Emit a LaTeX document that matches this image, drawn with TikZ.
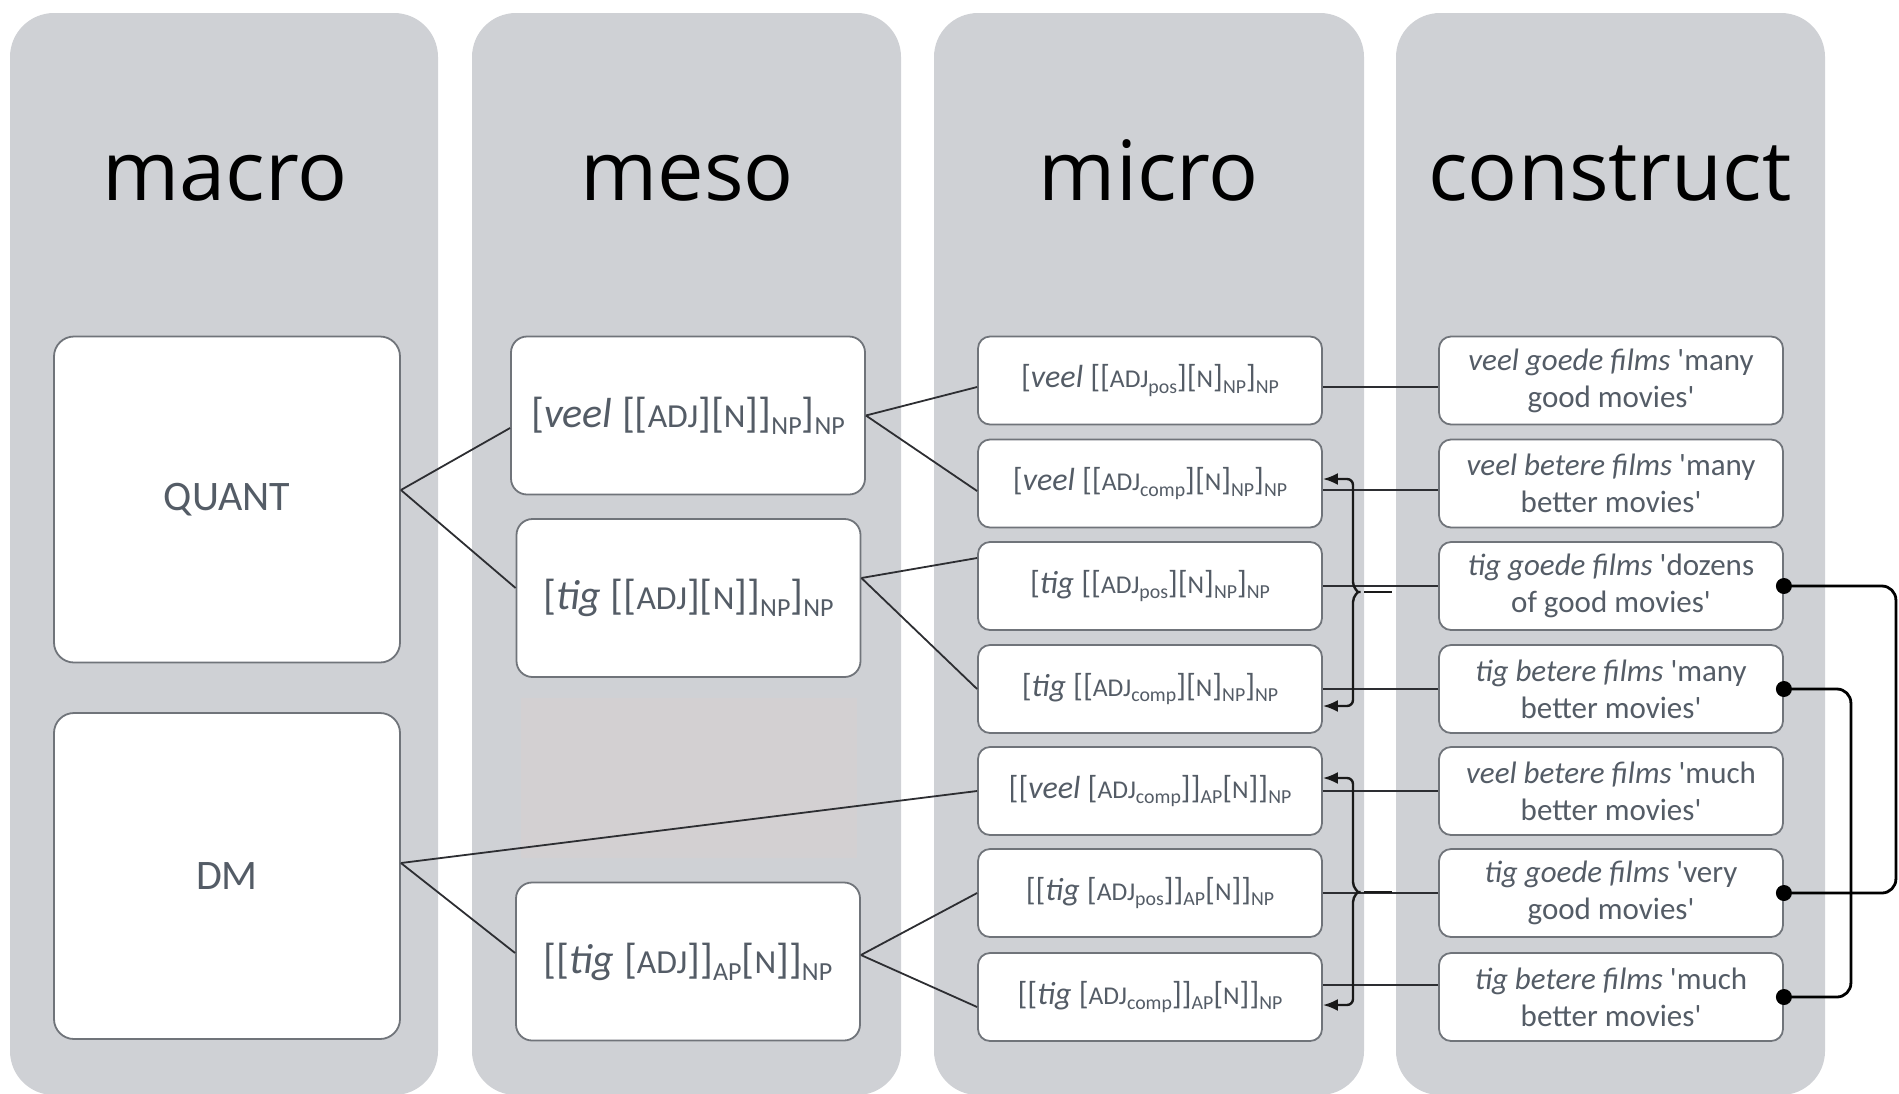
\documentclass[tikz,border=0pt]{standalone}
\usepackage{fontspec}
\usepackage{xcolor}
\usepackage{tikz}
\usetikzlibrary{positioning,calc,arrows.meta}

\newfontfamily\headfont{Open Sans}
\newfontfamily\boxfont{Carlito}
\definecolor{colgray}{RGB}{207,209,213}
\definecolor{boxline}{RGB}{112,116,122}
\definecolor{boxtext}{RGB}{84,92,102}
\definecolor{shadegray}{RGB}{211,208,210}
\definecolor{linegray}{RGB}{45,46,50}

\newcommand{\csize}[1]{\scalebox{0.8}{#1}}
\newcommand{\lsub}[1]{\raisebox{-0.35ex}{\scalebox{0.62}{#1}}}

\begin{document}
\begin{tikzpicture}[x=0.5pt,y=-0.5pt,
    column/.style={fill=colgray, rounded corners=22pt},
    head/.style={font=\headfont\fontsize{41.5}{50}\selectfont, anchor=base},
    box/.style={draw=boxline, line width=0.9pt, fill=white, rounded corners=6pt,
        text=boxtext, inner sep=0pt, align=center},
    macrobox/.style={box, rounded corners=10pt, font=\boxfont\fontsize{21}{25}\selectfont, minimum width=173pt, minimum height=163pt},
    mesobox/.style={box, rounded corners=8pt, font=\boxfont\fontsize{21}{25}\selectfont, minimum width=172pt, minimum height=79pt},
    microbox/.style={box, font=\boxfont\fontsize{16}{19}\selectfont, minimum width=172pt, minimum height=44pt},
    constrbox/.style={box, font=\boxfont\fontsize{15.5}{18.5}\selectfont, minimum width=172pt, minimum height=44pt},
    link/.style={draw=linegray, line width=0.9pt},
    brc/.style={draw=black!90, line width=1.2pt, rounded corners=3pt},
    pair/.style={draw=black, line width=1.4pt, rounded corners=7pt}
  ]
    \useasboundingbox (0,0) rectangle (1899,1093);

    % columns
    \fill[column] (10,13) rectangle (438,1095);
    \fill[column] (472,13) rectangle (901,1095);
    \fill[column] (934,13) rectangle (1364,1095);
    \fill[column] (1396,13) rectangle (1825,1095);

    \node[head] (hmacro) at (225,200) {macro};
    \node[head] (hmeso) at (687,200) {meso};
    \node[head] (hmicro) at (1149,200) {micro};
    \node[head] (hconstr) at (1610,200) {construct};

    % macro
    \node[macrobox] (quant) at (227,499.5) {QUANT};
    \node[macrobox] (dm) at (227,876) {DM};

    % meso
    \node[mesobox, minimum width=177pt] (mveel) at (688,415.5)
        {[\textit{veel} [[\csize{ADJ}][\csize{N}]]\lsub{NP}]\lsub{NP}};
    \node[mesobox] (mtig) at (688.5,598)
        {[\textit{tig} [[\csize{ADJ}][\csize{N}]]\lsub{NP}]\lsub{NP}};
    \fill[shadegray] (521,698) rectangle (857,858);
    \node[mesobox] (map) at (688,961.5)
        {[[\textit{tig} [\csize{ADJ}]]\lsub{AP}[\csize{N}]]\lsub{NP}};

    % micro
    \node[microbox] (m1) at (1150,380.5)
        {[\textit{veel} [[\csize{ADJ}\lsub{pos}][\csize{N}]\lsub{NP}]\lsub{NP}};
    \node[microbox] (m2) at (1150,483.5)
        {[\textit{veel} [[\csize{ADJ}\lsub{comp}][\csize{N}]\lsub{NP}]\lsub{NP}};
    \node[microbox] (m3) at (1150,586)
        {[\textit{tig} [[\csize{ADJ}\lsub{pos}][\csize{N}]\lsub{NP}]\lsub{NP}};
    \node[microbox] (m4) at (1150,689)
        {[\textit{tig} [[\csize{ADJ}\lsub{comp}][\csize{N}]\lsub{NP}]\lsub{NP}};
    \node[microbox] (m5) at (1150,791)
        {[[\textit{veel} [\csize{ADJ}\lsub{comp}]]\lsub{AP}[\csize{N}]]\lsub{NP}};
    \node[microbox] (m6) at (1150,893)
        {[[\textit{tig} [\csize{ADJ}\lsub{pos}]]\lsub{AP}[\csize{N}]]\lsub{NP}};
    \node[microbox] (m7) at (1150,997)
        {[[\textit{tig} [\csize{ADJ}\lsub{comp}]]\lsub{AP}[\csize{N}]]\lsub{NP}};

    % constructs
    \node[constrbox] (c1) at (1611,380.5) {\textit{veel goede films} 'many\\good movies'};
    \node[constrbox] (c2) at (1611,483.5) {\textit{veel betere films} 'many\\better movies'};
    \node[constrbox] (c3) at (1611,586) {\textit{tig goede films} 'dozens\\of good movies'};
    \node[constrbox] (c4) at (1611,689) {\textit{tig betere films} 'many\\better movies'};
    \node[constrbox] (c5) at (1611,791) {\textit{veel betere films} 'much\\better movies'};
    \node[constrbox] (c6) at (1611,893) {\textit{tig goede films} 'very\\good movies'};
    \node[constrbox] (c7) at (1611,997) {\textit{tig betere films} 'much\\better movies'};

    % macro -> meso -> micro
    \draw[link] ([yshift=4.75pt]quant.east) -- ([yshift=-6.25pt]mveel.west);
    \draw[link] ([yshift=4.75pt]quant.east) -- ([yshift=5pt]mtig.west);
    \draw[link] ([yshift=6.5pt]dm.east) -- (m5.west);
    \draw[link] ([yshift=6.5pt]dm.east) -- ([yshift=4.25pt]map.west);
    \draw[link] (mveel.east) -- ([yshift=-3.25pt]m1.west);
    \draw[link] (mveel.east) -- ([yshift=-3.75pt]m2.west);
    \draw[link] ([yshift=10pt]mtig.east) -- ([yshift=14pt]m3.west);
    \draw[link] ([yshift=10pt]mtig.east) -- (m4.west);
    \draw[link] ([yshift=3.25pt]map.east) -- (m6.west);
    \draw[link] ([yshift=3.25pt]map.east) -- ([yshift=-5pt]m7.west);

    % micro -> construct
    \draw[link] ([yshift=-3.25pt]m1.east) -- ([yshift=-3.25pt]c1.west);
    \draw[link] ([yshift=-3.25pt]m2.east) -- ([yshift=-3.25pt]c2.west);
    \draw[link] (m3.east) -- (c3.west);
    \draw[link] (m4.east) -- (c4.west);
    \draw[link] (m5.east) -- (c5.west);
    \draw[link] (m6.east) -- (c6.west);
    \draw[link] ([yshift=6pt]m7.east) -- ([yshift=6pt]c7.west);

    % braces
    \coordinate (tipa) at (1392,592);
    \draw[brc, -{Latex[length=7.5pt,width=6pt]}] (1353,582) |- ([yshift=2.25pt]m2.east);
    \draw[brc, -{Latex[length=7.5pt,width=6pt]}] (1353,602) |- ([yshift=-8.5pt]m4.east);
    \draw[brc] (1353,582) to[out=-90,in=180] (1364,592) to[out=180,in=90] (1353,602);
    \draw[brc] (1364,592) -- (tipa);

    \coordinate (tipb) at (1392,892);
    \draw[brc, -{Latex[length=7.5pt,width=6pt]}] (1353,882) |- ([yshift=6.5pt]m5.east);
    \draw[brc, -{Latex[length=7.5pt,width=6pt]}] (1353,902) |- ([yshift=-4pt]m7.east);
    \draw[brc] (1353,882) to[out=-90,in=180] (1364,892) to[out=180,in=90] (1353,902);
    \draw[brc] (1364,892) -- (tipb);

    % construct pairs
    \draw[pair] (c3.east) -- ++(112,0) |- (c6.east);
    \draw[pair] (c4.east) -- ++(67,0) |- (c7.east);
    \fill (c3.east) circle (4pt);
    \fill (c6.east) circle (4pt);
    \fill (c4.east) circle (4pt);
    \fill (c7.east) circle (4pt);
\end{tikzpicture}
\end{document}
